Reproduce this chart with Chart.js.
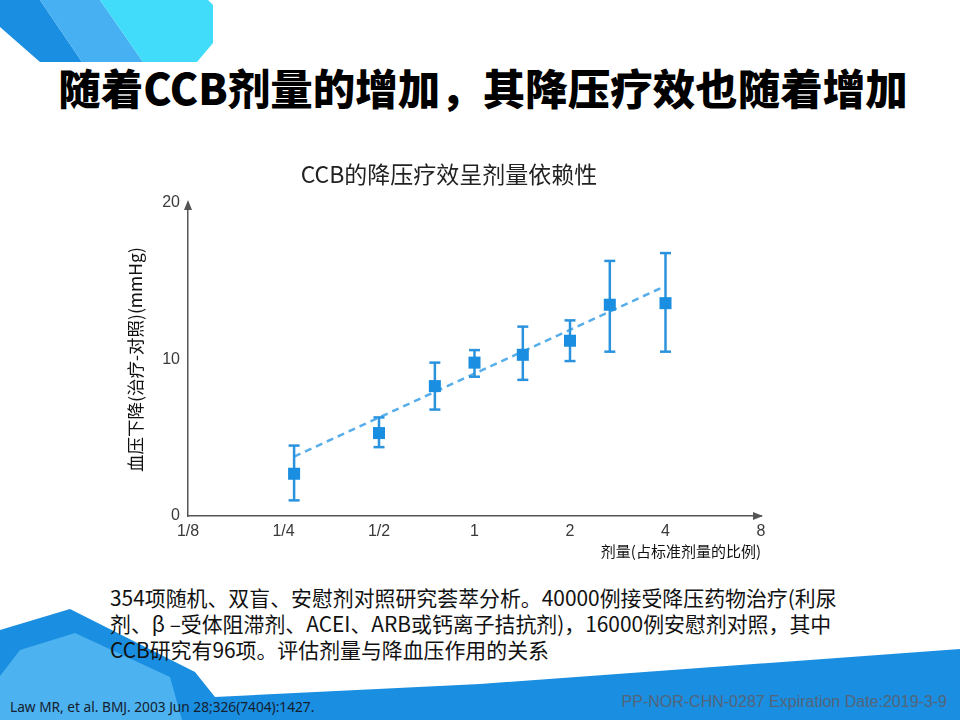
<!DOCTYPE html>
<html>
<head>
<meta charset="utf-8">
<script src="https://cdn.jsdelivr.net/npm/chart.js@4.4.1/dist/chart.umd.min.js"></script>
<style>
  html, body { margin: 0; padding: 0; background: #fff; }
  #page { position: relative; width: 960px; height: 720px; overflow: hidden; background: #fff; font-family: "Noto Sans CJK SC", sans-serif; }
  #deco { position: absolute; left: 0; top: 0; }
  #headline { position: absolute; left: 0; width: 966px; top: 63px; text-align: center; font-size: 42.5px; font-weight: 900; line-height: 48px; color: #000; white-space: nowrap; }
  #chartBox { position: absolute; left: 100px; top: 150px; width: 700px; height: 420px; }
  #note { position: absolute; left: 110px; top: 584px; font-size: 20.9px; line-height: 26px; color: #111; white-space: nowrap; }
  #ref { position: absolute; left: 10px; top: 697px; font-family: "Noto Sans", sans-serif; font-size: 13.7px; color: #14202e; white-space: nowrap; }
  #code { position: absolute; right: 13px; top: 693px; font-family: "Liberation Sans", Arial, sans-serif; font-size: 16px; color: #52657a; white-space: nowrap; }
</style>
</head>
<body>
<div id="page">
  <svg id="deco" width="960" height="720">
    <polygon points="0,0 40,0 82,62 40,62 0,27" fill="#1a8ee0"/>
    <polygon points="40,0 100,0 143,62 82,62" fill="#47b0f2"/>
    <polygon points="100,0 208,0 213,5 213,43 197,62 143,62" fill="#40dcfa"/>
    <polygon points="0,630 70,609 195,672 215,697 480,684 960,649 960,720 0,720" fill="#1a8ee0"/>
    <polygon points="0,676 20,650 75,633 170,677 182,720 0,720" fill="#4cb2f0"/>
  </svg>
  <div id="headline">随着CCB剂量的增加，其降压疗效也随着增加</div>
  <div id="chartBox"><canvas id="doseChart" width="700" height="420"></canvas></div>
  <div id="note">354项随机、双盲、安慰剂对照研究荟萃分析。40000例接受降压药物治疗(利尿<br>剂、β –受体阻滞剂、ACEI、ARB或钙离子拮抗剂)，16000例安慰剂对照，其中<br>CCB研究有96项。评估剂量与降血压作用的关系</div>
  <div id="ref">Law MR, et al. BMJ. 2003 Jun 28;326(7404):1427.</div>
  <div id="code">PP-NOR-CHN-0287 Expiration Date:2019-3-9</div>
</div>
<script>
// dose as fraction of standard dose, x axis is log2
const doseLabels = ['1/8', '1/4', '1/2', '1', '2', '4', '8'];
const doses = [0.27, 0.5, 0.75, 1, 1.42, 2, 2.67, 4];
const meanFall = [2.7, 5.3, 8.3, 9.8, 10.3, 11.2, 13.5, 13.6];
const ciLow = [1.0, 4.4, 6.8, 8.9, 8.7, 9.9, 10.5, 10.5];
const ciHigh = [4.5, 6.3, 9.8, 10.6, 12.1, 12.5, 16.3, 16.8];
const trendDose = [0.27, 4];
const trendFall = [3.8, 14.7];
const yTicks = [0, 10, 20];

const blue = '#1a8ee0';
const axisColor = '#555555';

// arrow heads on the axes
const axisArrows = {
    id: 'axisArrows',
    afterDraw(chart) {
        const { ctx, chartArea: a } = chart;
        ctx.save();
        ctx.fillStyle = axisColor;
        ctx.beginPath();
        ctx.moveTo(a.left, a.top - 3);
        ctx.lineTo(a.left - 4, a.top + 7);
        ctx.lineTo(a.left + 4, a.top + 7);
        ctx.closePath();
        ctx.fill();
        ctx.beginPath();
        ctx.moveTo(a.right + 2, a.bottom);
        ctx.lineTo(a.right - 8, a.bottom - 4);
        ctx.lineTo(a.right - 8, a.bottom + 4);
        ctx.closePath();
        ctx.fill();
        ctx.restore();
    }
};

const errorSets = doses.map((d, i) => ({
    type: 'scatter',
    data: [{ x: Math.log2(d), y: ciLow[i] }, { x: Math.log2(d), y: ciHigh[i] }],
    showLine: true,
    borderColor: '#2b93de',
    borderWidth: 2.5,
    pointStyle: 'line',
    pointRadius: 5.5,
    pointBorderWidth: 2.5,
    pointBorderColor: '#2b93de',
    order: 2
}));

const ctx = document.getElementById('doseChart').getContext('2d');
const doseChart = new Chart(ctx, {
    type: 'scatter',
    data: {
        datasets: [
            {
                data: doses.map((d, i) => ({ x: Math.log2(d), y: meanFall[i] })),
                pointStyle: 'rect',
                pointRadius: 8.5,
                backgroundColor: blue,
                borderWidth: 0,
                order: 1
            },
            ...errorSets,
            {
                data: trendDose.map((d, i) => ({ x: Math.log2(d), y: trendFall[i] })),
                showLine: true,
                borderColor: '#57aeea',
                borderWidth: 2.5,
                borderDash: [7, 5],
                pointRadius: 0,
                order: 3
            }
        ]
    },
    options: {
        responsive: false,
        animation: false,
        layout: { padding: { left: 15, right: 17, top: 0, bottom: 8 } },
        scales: {
            x: {
                type: 'linear',
                min: -3,
                max: 3,
                grid: { display: false, drawTicks: false, tickLength: 0 },
                border: { display: true, color: axisColor, width: 1.5 },
                afterBuildTicks: (axis) => {
                    axis.ticks = doseLabels.map((_, i) => ({ value: i - 3 }));
                },
                afterFit: (axis) => { axis.height = 46; },
                ticks: {
                    padding: 6,
                    maxRotation: 0,
                    color: '#3a3a3a',
                    font: { family: 'Liberation Sans, Arial', size: 16 },
                    callback: (v) => doseLabels[v + 3]
                },
                title: {
                    display: true,
                    text: '剂量(占标准剂量的比例)',
                    align: 'end',
                    color: '#111',
                    font: { family: 'Noto Sans CJK SC', size: 15 },
                    padding: { top: 0.8, bottom: 2 }
                }
            },
            y: {
                min: 0,
                max: 20,
                grid: { display: false, drawTicks: false, tickLength: 0 },
                border: { display: true, color: axisColor, width: 1.5 },
                afterBuildTicks: (axis) => {
                    axis.ticks = yTicks.map(v => ({ value: v }));
                },
                afterFit: (axis) => { axis.width = 73; },
                ticks: {
                    padding: 8,
                    color: '#3a3a3a',
                    font: { family: 'Liberation Sans, Arial', size: 16 }
                },
                title: {
                    display: true,
                    text: '血压下降(治疗-对照)(mmHg)',
                    color: '#111',
                    font: { family: 'Noto Sans CJK SC', size: 17.5 },
                    padding: { top: 9.5, bottom: 17 }
                }
            },
            // empty right margin so the chart title sits where the original has it
            yRight: {
                position: 'right',
                min: 0,
                max: 20,
                grid: { display: false, drawTicks: false, tickLength: 0 },
                border: { display: false },
                ticks: { display: false },
                afterFit: (axis) => { axis.width = 22; }
            }
        },
        plugins: {
            legend: { display: false },
            tooltip: { enabled: false },
            title: {
                display: true,
                text: 'CCB的降压疗效呈剂量依赖性',
                color: '#222',
                font: { family: 'Noto Sans CJK SC', size: 23, weight: 'normal' },
                padding: { top: 10.2, bottom: 15.2 }
            }
        }
    },
    plugins: [axisArrows]
});
</script>
</body>
</html>
